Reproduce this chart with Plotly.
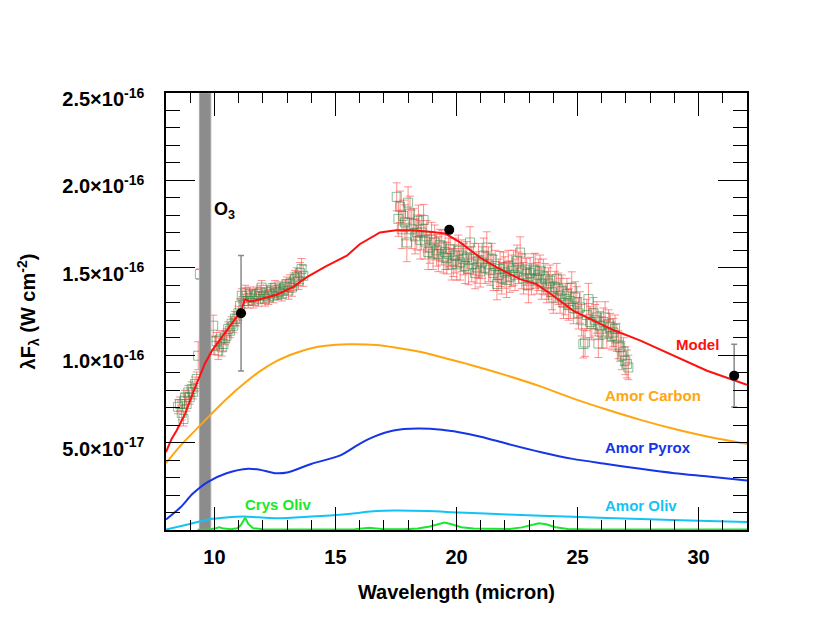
import numpy as np
import plotly.graph_objects as go

SCALE = 1e-18  # values below are in units of 1e-18 W cm^-2

# ---- observed spectrum, short segment ----
wl_s = [8.50, 8.58, 8.65, 8.72, 8.76, 8.79, 8.85, 8.92, 8.98, 9.06, 9.12, 9.20, 9.27, 9.33, 9.40,
        9.95, 10.02, 10.09, 10.16, 10.23, 10.30, 10.37, 10.44, 10.50, 10.57, 10.64, 10.71, 10.78,
        10.85, 10.92, 10.99, 11.06, 11.13, 11.20, 11.27, 11.33, 11.40, 11.47, 11.54, 11.61, 11.68,
        11.75, 11.82, 11.89, 11.95, 12.02, 12.09, 12.16, 12.23, 12.30, 12.37, 12.44, 12.50, 12.57,
        12.64, 12.71, 12.78, 12.85, 12.92, 12.99, 13.06, 13.13, 13.20, 13.27, 13.33, 13.40, 13.47,
        13.54, 13.60, 13.67]
fl_s = [70.5, 72.1, 67.0, 63.5, 74.0, 75.9, 72.0, 78.7, 76.0, 80.7, 79.0, 83.5, 86.4, 99.7, 146.4,
        116.9, 105.4, 108.0, 102.6, 109.0, 104.5, 106.4, 110.0, 111.1, 115.0, 114.0, 118.0, 116.9,
        121.0, 120.7, 124.0, 128.3, 134.0, 131.0, 136.0, 134.0, 131.0, 135.0, 133.0, 131.0, 134.0,
        135.0, 132.0, 136.0, 138.7, 134.0, 132.1, 136.0, 133.0, 135.0, 137.0, 134.0, 138.7, 136.0,
        135.9, 138.0, 135.0, 136.9, 139.0, 140.7, 137.0, 141.0, 138.7, 142.0, 143.5, 145.0, 142.6,
        147.0, 149.3, 145.4]
er_s = [4, 4, 4, 4, 4, 4, 4, 4, 4, 4, 4, 4, 4, 8, 3,
        6, 5, 5, 5, 5, 5, 4, 4, 4, 4, 4, 4, 4,
        4, 4, 4, 4, 4, 4, 4, 4, 4, 4, 4, 4, 4,
        4, 4, 4, 4, 4, 4, 4, 4, 4, 4, 4, 4, 4,
        4, 4, 4, 4, 4, 4, 5, 5, 5, 5, 5, 5, 5,
        6, 6, 6]

# ---- observed spectrum, long segment ----
wl_l = [17.53, 17.60, 17.67, 17.74, 17.80, 17.87, 17.95, 18.00, 18.08, 18.15, 18.22, 18.29, 18.36,
        18.43, 18.50, 18.56, 18.64, 18.70, 18.77, 18.83, 18.90, 18.97, 19.03, 19.10, 19.18, 19.25,
        19.32, 19.39, 19.46, 19.53, 19.60, 19.67, 19.74, 19.80, 19.87, 19.94, 20.01, 20.08, 20.15,
        20.22, 20.29, 20.36, 20.43, 20.50, 20.56, 20.63, 20.70, 20.77, 20.84, 20.91, 20.98, 21.05,
        21.12, 21.18, 21.25, 21.32, 21.39, 21.46, 21.53, 21.60, 21.67, 21.74, 21.80, 21.87, 21.94,
        22.00, 22.07, 22.14, 22.21, 22.28, 22.35, 22.42, 22.50, 22.56, 22.63, 22.70, 22.77, 22.84,
        22.90, 22.97, 23.04, 23.10, 23.18, 23.25, 23.32, 23.38, 23.45, 23.52, 23.59, 23.66, 23.73,
        23.80, 23.87, 23.94, 24.00, 24.07, 24.14, 24.21, 24.28, 24.35, 24.42, 24.49, 24.56, 24.63,
        24.70, 24.76, 24.83, 24.90, 24.97, 25.04, 25.10, 25.17, 25.24, 25.31, 25.38, 25.45, 25.52,
        25.59, 25.66, 25.73, 25.80, 25.86, 25.93, 26.00, 26.07, 26.14, 26.21, 26.28, 26.35, 26.42,
        26.48, 26.55, 26.62, 26.69, 26.76, 26.83, 26.90, 26.97, 27.04, 27.10]
fl_l = [190.6, 178.0, 184.9, 172.0, 179.7, 176.0, 164.5, 187.3, 181.0, 172.0, 175.0, 168.0, 170.2,
        176.9, 166.0, 170.2, 177.3, 165.0, 168.0, 159.0, 161.6, 166.0, 158.0, 164.5, 160.0, 157.8,
        163.0, 161.6, 156.0, 159.0, 155.5, 158.0, 160.7, 152.0, 154.0, 157.0, 152.0, 159.7, 153.0,
        157.0, 155.0, 151.0, 156.0, 149.3, 164.5, 152.0, 155.0, 147.0, 150.2, 154.0, 148.0, 153.0,
        157.0, 150.0, 161.6, 152.0, 149.0, 155.0, 147.0, 151.0, 140.7, 146.0, 149.3, 144.0, 150.0,
        147.3, 143.0, 151.0, 145.0, 148.3, 150.0, 146.0, 154.0, 150.0, 158.7, 148.0, 144.0, 149.0,
        146.4, 140.0, 147.0, 143.5, 149.0, 148.3, 144.0, 146.0, 148.3, 141.0, 145.0, 143.5, 139.0,
        141.0, 142.6, 136.0, 133.0, 139.0, 143.5, 138.0, 134.0, 136.9, 130.0, 132.1, 135.0, 129.0,
        131.0, 138.7, 127.0, 133.0, 130.2, 124.0, 127.3, 120.0, 106.4, 107.3, 123.0, 132.1, 119.0,
        117.8, 124.0, 120.0, 121.6, 106.7, 116.9, 113.0, 119.0, 121.6, 112.0, 118.0, 115.9, 111.0,
        113.0, 115.0, 110.2, 106.0, 104.5, 99.7, 102.0, 96.9, 95.0, 93.0]
er_l = [8, 10, 9, 11, 9, 10, 11, 9, 10, 11, 9, 10, 10,
        9, 11, 10, 9, 10, 9, 10, 9, 10, 9, 10, 9, 10,
        9, 10, 9, 10, 9, 9, 10, 9, 9, 10, 9, 9, 10,
        9, 9, 10, 9, 9, 9, 10, 9, 9, 9, 10, 9, 9,
        10, 9, 9, 10, 9, 9, 10, 9, 9, 9, 10, 9, 9,
        9, 10, 9, 9, 9, 10, 9, 9, 9, 9, 10, 9, 9,
        9, 10, 9, 9, 9, 10, 9, 9, 9, 9, 10, 9, 9,
        9, 9, 10, 9, 9, 9, 9, 10, 9, 9, 9, 9, 9,
        10, 9, 9, 9, 9, 9, 9, 9, 8, 8, 9, 9, 9,
        9, 9, 9, 9, 8, 8, 9, 8, 9, 8, 8, 8, 8,
        8, 8, 8, 8, 8, 8, 8, 8, 8, 7]

# ---- photometry ----
wl_ph = [11.1, 19.7, 31.47]
fl_ph = [124.0, 171.7, 88.3]
er_ph = [33.0, 0.0, 18.0]

# ---- model components ----
wl_carb = [8, 8.6, 9.4, 9.8, 10.5, 11.2, 11.9, 12.6, 13.3, 14.0, 14.6, 15.5, 16.7, 17.4, 18.8,
           19.3, 20.7, 22.1, 23.5, 24.8, 26.2, 27.6, 29.0, 30.4, 32]
fl_carb = [38.2, 48.3, 59.7, 65.4, 75.0, 83.5, 91.0, 96.9, 101.0, 104.0, 105.4, 106.2, 105.8, 104.5,
           101.0, 99.1, 94.0, 88.3, 82.0, 75.3, 68.9, 63.0, 57.8, 53.4, 49.3]

wl_pyr = [8, 8.6, 9.1, 9.7, 10.5, 11.4, 11.9, 12.5, 13.0, 14.0, 15.2, 16.0, 16.6, 17.4, 18.4,
          19.4, 20.1, 21.0, 22.1, 23.5, 24.8, 26.2, 27.6, 29.0, 30.4, 32]
fl_pyr = [6.0, 13.0, 20.7, 27.3, 32.5, 35.1, 34.4, 32.5, 32.9, 37.8, 42.7, 49.3, 53.4, 56.9, 58.0,
          57.3, 55.9, 53.4, 49.3, 44.5, 40.7, 37.8, 35.0, 32.5, 30.6, 28.3]

wl_aol = [8, 8.85, 9.8, 10.5, 11.2, 12.6, 14.0, 15.3, 16.7, 17.4, 18.8, 20.1, 22.1, 24.8, 27.6,
          30.4, 32]
fl_aol = [0.3, 3.0, 6.2, 7.2, 7.7, 6.7, 7.7, 8.9, 10.8, 11.1, 10.8, 10.0, 8.9, 7.6, 6.3, 5.2, 4.6]

wl_col = [9.3, 9.8, 10.0, 10.2, 10.4, 10.7, 10.95, 11.1, 11.27, 11.4, 11.6, 12.0, 13.0, 14.0, 15.0,
          15.8, 16.4, 17.0, 17.8, 18.4, 18.9, 19.2, 19.5, 19.8, 20.2, 20.7, 21.5, 22.2, 22.7, 23.1,
          23.4, 23.7, 24.1, 24.6, 25.5, 27.0, 28.0, 29.0, 32.0]
fl_col = [0.2, 0.3, 0.8, 1.5, 0.8, 0.5, 1.0, 3.0, 7.0, 3.5, 1.0, 0.5, 0.3, 0.3, 0.3,
          0.5, 1.3, 0.5, 0.4, 0.8, 2.0, 3.3, 4.3, 3.3, 1.6, 0.8, 0.5, 0.6, 1.5, 3.0,
          3.8, 3.3, 1.6, 0.6, 0.3, 0.3, 0.5, 0.3, 0.3]

wl_mod = [8, 8.23, 8.44, 8.79, 9.13, 9.38, 9.6, 9.9, 10.5, 11.06, 11.27, 11.47, 11.88, 12.57, 13.26,
          13.8, 14.64, 15.47, 16.0, 16.5, 16.84, 17.5, 18.2, 18.9, 19.53, 20.15, 20.97, 21.67, 22.63,
          23.3, 24.0, 24.83, 25.8, 26.48, 27.6, 29.0, 30.35, 32]
fl_mod = [44.5, 52.1, 56.9, 66.4, 79.0, 88.0, 95.0, 102.6, 114.0, 124.5, 132.0, 130.7, 132.0, 134.6,
          139.1, 144.5, 151.1, 156.9, 163.5, 167.5, 170.2, 171.5, 171.5, 170.6, 169.6, 164.5, 155.9,
          150.2, 143.5, 140.7, 134.0, 125.4, 118.7, 114.4, 108.3, 99.7, 91.1, 83.1]

O3_BAND = [9.38, 9.85]
X_RANGE = [8, 32]
Y_RANGE = [0, 2.5e-16]
y_tickvals = [5e-17, 1e-16, 1.5e-16, 2e-16, 2.5e-16]
y_ticktext = ["5.0×10<sup>-17</sup>", "1.0×10<sup>-16</sup>", "1.5×10<sup>-16</sup>",
              "2.0×10<sup>-16</sup>", "2.5×10<sup>-16</sup>"]
x_tickvals = [10, 15, 20, 25, 30]

C_MODEL = "#ff1010"
C_CARB = "#ffa510"
C_PYR = "#1535e6"
C_AOL = "#12c4f5"
C_COL = "#18e82c"

s = lambda a: [v * SCALE for v in a]
FONT = "Liberation Sans, Arial, Helvetica, sans-serif"

fig = go.Figure()

for wl, fl, er in [(wl_s, fl_s, er_s), (wl_l, fl_l, er_l)]:
    fig.add_trace(go.Scatter(
        x=wl, y=s(fl), mode="markers",
        marker=dict(symbol="square-open", size=9, color="rgba(40,140,70,0.55)", line=dict(width=1)),
        error_y=dict(type="data", array=s(er), color="rgba(255,70,70,0.6)", thickness=1, width=4),
        showlegend=False, hoverinfo="skip"))

# O3 band (drawn above the spectrum, below the model curves)
fig.add_trace(go.Scatter(
    x=[O3_BAND[0], O3_BAND[1], O3_BAND[1], O3_BAND[0], O3_BAND[0]],
    y=[Y_RANGE[0], Y_RANGE[0], Y_RANGE[1], Y_RANGE[1], Y_RANGE[0]],
    mode="lines", fill="toself", fillcolor="#8c8c8c",
    line=dict(color="#a8a8a8", width=1), showlegend=False, hoverinfo="skip"))

fig.add_trace(go.Scatter(x=wl_col, y=s(fl_col), mode="lines", line=dict(color=C_COL, width=2),
                         showlegend=False))
fig.add_trace(go.Scatter(x=wl_aol, y=s(fl_aol), mode="lines", line=dict(color=C_AOL, width=2, shape="spline", smoothing=0.8),
                         showlegend=False))
fig.add_trace(go.Scatter(x=wl_pyr, y=s(fl_pyr), mode="lines", line=dict(color=C_PYR, width=2, shape="spline", smoothing=0.8),
                         showlegend=False))
fig.add_trace(go.Scatter(x=wl_carb, y=s(fl_carb), mode="lines", line=dict(color=C_CARB, width=2, shape="spline", smoothing=0.8),
                         showlegend=False))
fig.add_trace(go.Scatter(x=wl_mod, y=s(fl_mod), mode="lines", line=dict(color=C_MODEL, width=2),
                         showlegend=False))

fig.add_trace(go.Scatter(
    x=wl_ph, y=s(fl_ph), mode="markers",
    marker=dict(symbol="circle", size=10, color="black"),
    error_y=dict(type="data", array=s(er_ph), color="#8a8a8a", thickness=1.5, width=3),
    showlegend=False))

labels = [
    ("<b>Model</b>", 29.94, 106, C_MODEL, "center"),
    ("<b>Amor Carbon</b>", 26.06, 77, C_CARB, "left"),
    ("<b>Amor Pyrox</b>", 26.06, 47, C_PYR, "left"),
    ("<b>Amor Oliv</b>", 26.06, 14, C_AOL, "left"),
    ("<b>Crys Oliv</b>", 11.19, 14.6, C_COL, "left"),
]
for txt, x, y, c, anc in labels:
    fig.add_annotation(x=x, y=y * SCALE, text=txt, showarrow=False, xanchor=anc, yanchor="middle",
                       font=dict(family=FONT, size=15, color=c))
fig.add_annotation(x=9.9, y=182.6 * SCALE, text="<b>O<sub>3</sub></b>", showarrow=False,
                   xanchor="left", yanchor="middle", font=dict(family=FONT, size=18, color="black"))

axis_common = dict(showline=True, linecolor="black", linewidth=1.5, mirror="ticks",
                   ticks="inside", tickcolor="black", tickwidth=1, showgrid=False, zeroline=False)

# page body has an 8px default margin: figure size/margins compensate so the plot area
# lands at x 166-747, y 93-530 of the window
fig.update_layout(
    width=822, height=615,
    margin=dict(l=158, r=83, t=85, b=93, autoexpand=False),
    paper_bgcolor="white", plot_bgcolor="white",
    font=dict(family=FONT, color="black"),
    xaxis=dict(range=X_RANGE, tickvals=x_tickvals, ticklen=23,
               minor=dict(dtick=1, tick0=8, ticklen=10, ticks="inside", tickcolor="black", tickwidth=1),
               tickfont=dict(size=20, weight="bold"), ticklabelstandoff=8,
               title=dict(text="<b>Wavelength (micron)</b>", font=dict(size=20), standoff=18),
               **axis_common),
    yaxis=dict(range=Y_RANGE, tickvals=y_tickvals, ticktext=y_ticktext, ticklen=29,
               minor=dict(dtick=1e-17, tick0=0, ticklen=14, ticks="inside", tickcolor="black", tickwidth=1),
               tickfont=dict(size=20, weight="bold"), ticklabelstandoff=16, ticklabelshift=6,
               title=dict(text="<b>λF<sub>λ</sub> (W cm<sup>-2</sup>)</b>", font=dict(size=20), standoff=21),
               **axis_common),
)

fig.write_html("out.html")
